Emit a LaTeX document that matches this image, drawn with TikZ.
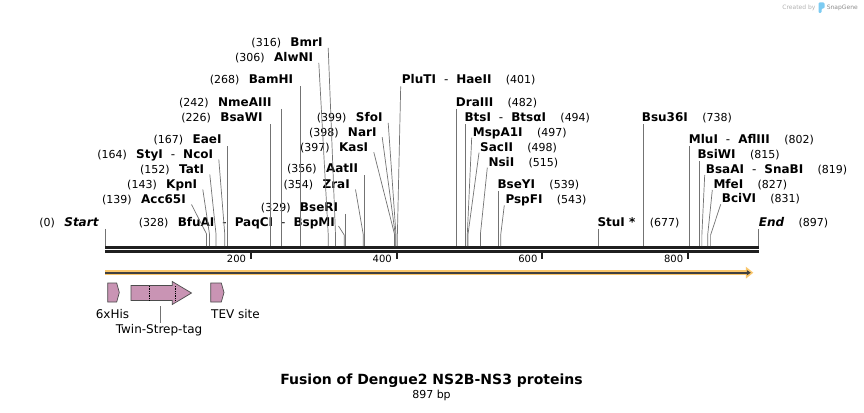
\documentclass[tikz,border=0pt]{standalone}
\usepackage{fontspec}
\setmainfont{DejaVu Sans}
\usetikzlibrary{arrows.meta,positioning}

\definecolor{featpink}{HTML}{C994B4}
\definecolor{barorange}{HTML}{F9C66B}
\definecolor{snapblue}{HTML}{7CCBF2}

\begin{document}
\begin{tikzpicture}[
    x=1pt,
    y=-1pt,
    enzname/.style={
        inner sep=0pt,
        text height=11.3pt,
        text depth=2.5pt,
        font=\fontsize{12}{14}\selectfont\bfseries,
    },
    posnum/.style={
        inner sep=0pt,
        text height=11.3pt,
        text depth=2.5pt,
        font=\normalfont\fontsize{11}{13}\selectfont,
    },
    enzleft/.style={
        enzname,
        anchor=east,
        label={[posnum, xshift=-9pt]left:#1},
    },
    enzright/.style={
        enzname,
        anchor=west,
        label={[posnum, xshift=14pt]right:#1},
    },
    leader/.style={
        draw=black!55,
        line width=0.7pt,
    },
    backbone/.style={
        draw=black!88,
        line width=#1,
    },
    tick/.style={
        draw=black!88,
        line width=1.8pt,
    },
    ticklbl/.style={
        anchor=east,
        inner sep=0pt,
        xshift=-4pt,
        font=\fontsize{10}{12}\selectfont,
    },
    feat/.style={
        draw=black!70,
        line width=0.7pt,
        fill=featpink,
    },
    featlbl/.style={
        inner sep=1pt,
        font=\fontsize{12}{14}\selectfont,
    },
]

\fill[white] (0,0) rectangle (864,412);
\useasboundingbox (0,0) rectangle (864,412);

% === Sequence backbone, sites in bp ===
\begin{scope}[xshift=105.3pt, x=0.7284pt]
    \draw[backbone=2.8pt] (0,247.5) -- (897,247.5);
    \draw[backbone=2.4pt] (0,251.4) -- (897,251.4);

    \draw[tick] (200,252.5) -- (200,259) node[ticklbl] (t200) {200};
    \draw[tick] (400,252.5) -- (400,259) node[ticklbl] (t400) {400};
    \draw[tick] (600,252.5) -- (600,259) node[ticklbl] (t600) {600};
    \draw[tick] (800,252.5) -- (800,259) node[ticklbl] (t800) {800};

    \coordinate (c0) at (0,246);
    \coordinate (c139) at (139,246);
    \coordinate (c143) at (143,246);
    \coordinate (c152) at (152,246);
    \coordinate (c164) at (164,246);
    \coordinate (c167) at (167,246);
    \coordinate (c226) at (226,246);
    \coordinate (c242) at (242,246);
    \coordinate (c268) at (268,246);
    \coordinate (c306) at (306,246);
    \coordinate (c316) at (316,246);
    \coordinate (c328) at (328,246);
    \coordinate (c329) at (329,246);
    \coordinate (c354) at (354,246);
    \coordinate (c356) at (356,246);
    \coordinate (c397) at (397,246);
    \coordinate (c398) at (398,246);
    \coordinate (c399) at (399,246);
    \coordinate (c401) at (401,246);
    \coordinate (c482) at (482,246);
    \coordinate (c494) at (494,246);
    \coordinate (c497) at (497,246);
    \coordinate (c498) at (498,246);
    \coordinate (c515) at (515,246);
    \coordinate (c539) at (539,246);
    \coordinate (c543) at (543,246);
    \coordinate (c677) at (677,246);
    \coordinate (c738) at (738,246);
    \coordinate (c802) at (802,246);
    \coordinate (c815) at (815,246);
    \coordinate (c819) at (819,246);
    \coordinate (c827) at (827,246);
    \coordinate (c831) at (831,246);
    \coordinate (c897) at (897,246);
\end{scope}

% === Enzymes, label left of the cut ===
\node[enzleft=(0), font=\fontsize{12}{14}\selectfont\bfseries\itshape] (start) at (98.7,221.7) {Start};
\node[enzleft=(139)] (acc) at (186,199) {Acc65I};
\node[enzleft=(143)] (kpn) at (197.3,184) {KpnI};
\node[enzleft=(152)] (tat) at (204.3,169) {TatI};
\node[enzleft=(164)] (sty) at (213.3,154) {StyI\hspace{8pt}{\mdseries -}\hspace{8pt}NcoI};
\node[enzleft=(167)] (eae) at (221.7,139) {EaeI};
\node[enzleft=(226)] (bsw) at (262.7,117.3) {BsaWI};
\node[enzleft=(242)] (nme) at (271.7,101.7) {NmeAIII};
\node[enzleft=(268)] (bam) at (293.3,79) {BamHI};
\node[enzleft=(306)] (alw) at (313.3,57.3) {AlwNI};
\node[enzleft=(316)] (bmr) at (322.7,42.3) {BmrI};
\node[enzleft=(329)] (bse) at (338.3,206.7) {BseRI};
\node[enzleft=(328)] (bfu) at (335,222) {BfuAI\hspace{8pt}{\mdseries -}\hspace{8pt}PaqCI\hspace{8pt}{\mdseries -}\hspace{8pt}BspMI};
\node[enzleft=(354)] (zra) at (350,184) {ZraI};
\node[enzleft=(356)] (aat) at (358.3,168.3) {AatII};
\node[enzleft=(397)] (kas) at (368.3,146.7) {KasI};
\node[enzleft=(398)] (nar) at (376.7,131.7) {NarI};
\node[enzleft=(399)] (sfo) at (382.7,117.3) {SfoI};

% === Enzymes, label right of the cut ===
\node[enzright=(401)] (plu) at (401.7,79.3) {PluTI\hspace{8pt}{\mdseries -}\hspace{8pt}HaeII};
\node[enzright=(482)] (dra) at (455.7,101.7) {DraIII};
\node[enzright=(494)] (bts) at (464.3,117.3) {BtsI\hspace{8pt}{\mdseries -}\hspace{8pt}BtsαI};
\node[enzright=(497)] (msp) at (472.7,131.7) {MspA1I};
\node[enzright=(498)] (sac) at (480,146.7) {SacII};
\node[enzright=(515)] (nsi) at (488.3,161.7) {NsiI};
\node[enzright=(539)] (bsy) at (497.3,184) {BseYI};
\node[enzright=(543)] (psp) at (505.3,199.3) {PspFI};
\node[enzright=(677)] (stu) at (597.3,221.7) {StuI *};
\node[enzright=(738)] (bsu) at (641.7,117.3) {Bsu36I};
\node[enzright=(802)] (mlu) at (688.7,139.3) {MluI\hspace{8pt}{\mdseries -}\hspace{8pt}AflIII};
\node[enzright=(815)] (bsi) at (697.3,154) {BsiWI};
\node[enzright=(819)] (bsa) at (705.7,169) {BsaAI\hspace{8pt}{\mdseries -}\hspace{8pt}SnaBI};
\node[enzright=(827)] (mfe) at (713.3,184) {MfeI};
\node[enzright=(831)] (bci) at (721.7,198.3) {BciVI};
\node[enzright=(897), font=\fontsize{12}{14}\selectfont\bfseries\itshape] (fin) at (758.7,221.7) {End};

% === Leader lines ===
\draw[leader] (start.south -| c0) -- (c0);
\draw[leader] ([shift={(5.5,5.5)}]acc.east) -- ([yshift=12pt]c139) -- (c139);
\draw[leader] ([shift={(5.5,5.5)}]kpn.east) -- ([yshift=12pt]c143) -- (c143);
\draw[leader] ([shift={(5.5,5.5)}]tat.east) -- ([yshift=12pt]c152) -- (c152);
\draw[leader] ([shift={(5.5,5.5)}]sty.east) -- ([yshift=12pt]c164) -- (c164);
\draw[leader] (eae.south -| c167) -- (c167);
\draw[leader] (bsw.south -| c226) -- (c226);
\draw[leader] (nme.south -| c242) -- (c242);
\draw[leader] (bam.south -| c268) -- (c268);
\draw[leader] ([shift={(5.5,5.5)}]alw.east) -- ([yshift=12pt]c306) -- (c306);
\draw[leader] ([shift={(5.5,5.5)}]bmr.east) -- ([yshift=12pt]c316) -- (c316);
\draw[leader] (bse.south -| c329) -- (c329);
\draw[leader] ([shift={(3.5,4)}]bfu.east) -- ([yshift=11pt]c328) -- (c328);
\draw[leader] ([shift={(5.5,5.5)}]zra.east) -- ([yshift=12pt]c354) -- (c354);
\draw[leader] (aat.south -| c356) -- (c356);
\draw[leader] ([shift={(5.5,5.5)}]kas.east) -- ([yshift=12pt]c397) -- (c397);
\draw[leader] ([shift={(5.5,5.5)}]nar.east) -- ([yshift=12pt]c398) -- (c398);
\draw[leader] ([shift={(5.5,5.5)}]sfo.east) -- ([yshift=12pt]c399) -- (c399);

\draw[leader] ([shift={(-1,7)}]plu.west) -- ([yshift=12pt]c401) -- (c401);
\draw[leader] (dra.south -| c482) -- (c482);
\draw[leader] (bts.south -| c494) -- (c494);
\draw[leader] ([shift={(-1,6)}]msp.west) -- ([yshift=12pt]c497) -- (c497);
\draw[leader] ([shift={(-1,6)}]sac.west) -- ([yshift=12pt]c498) -- (c498);
\draw[leader] ([shift={(-1,6)}]nsi.west) -- ([yshift=12pt]c515) -- (c515);
\draw[leader] (bsy.south -| c539) -- (c539);
\draw[leader] ([shift={(-1,6)}]psp.west) -- ([yshift=12pt]c543) -- (c543);
\draw[leader] (stu.south -| c677) -- (c677);
\draw[leader] (bsu.south -| c738) -- (c738);
\draw[leader] (mlu.south -| c802) -- (c802);
\draw[leader] (bsi.south -| c815) -- (c815);
\draw[leader] ([shift={(-1,6)}]bsa.west) -- ([yshift=11pt]c819) -- (c819);
\draw[leader] ([shift={(-1,6)}]mfe.west) -- ([yshift=11pt]c827) -- (c827);
\draw[leader] ([shift={(-1,6)}]bci.west) -- ([yshift=11pt]c831) -- (c831);
\draw[leader] (fin.south -| c897) -- (c897);

% === ORF bar ===
\coordinate (orfL) at (105,272.7);
\coordinate (orfR) at (753.3,272.7);
\draw[line width=5.3pt, draw=barorange, -{Triangle[length=7.5pt,width=11.4pt,fill=barorange]}] (orfL) -- (orfR);
\draw[line width=2.2pt, draw=black!75, -{Triangle[length=4pt,width=5pt]}] (orfL) -- ([xshift=-2.5pt]orfR);

% === Features ===
\draw[feat] (107.7,283) -- (116.7,283) -- (119.3,292.5) -- (116.7,302) -- (107.7,302) -- cycle;
\draw[feat] (131,285.5) -- (172.3,285.5) -- (172.3,281.5) -- (191.5,293) -- (172.3,304.5) -- (172.3,300.5) -- (131,300.5) -- cycle;
\draw[densely dotted, line width=0.7pt] (149.3,286) -- (149.3,300);
\draw[densely dotted, line width=0.7pt] (175.5,286) -- (175.5,300);
\draw[feat] (210.7,283) -- (221.3,283) -- (224,292.5) -- (221.3,302) -- (210.7,302) -- cycle;

\node[featlbl] (his) at (112.5,314) {6xHis};
\node[featlbl, anchor=west] (tev) at (210,314) {TEV site};
\coordinate (twintop) at (160,306);
\node[featlbl] (twin) at (159,330) {Twin-Strep-tag};
\draw[leader] (twintop) -- (twintop |- twin.north);

% === Title ===
\node[inner sep=0pt, font=\fontsize{14}{16}\selectfont\bfseries] (title) at (431.5,381) {Fusion of Dengue2 NS2B-NS3 proteins};
\node[below=2pt of title, inner sep=0pt, font=\fontsize{11}{13}\selectfont] (len) {897 bp};

% === Credit ===
\node[anchor=east, inner sep=0pt, text=black!45, font=\fontsize{6}{7}\selectfont] (snapgene) at (858,7.5) {SnapGene};
\fill[snapblue, rounded corners=1.2pt] (818.5,2.5) -- (824.5,2.5) -- (824.5,8.5) -- (821.5,8.5) -- (821.5,13) -- (818.5,13) -- cycle;
\node[left=11pt of snapgene, inner sep=0pt, text=black!30, font=\fontsize{6}{7}\selectfont] (createdby) {Created by};

\end{tikzpicture}
\end{document}
